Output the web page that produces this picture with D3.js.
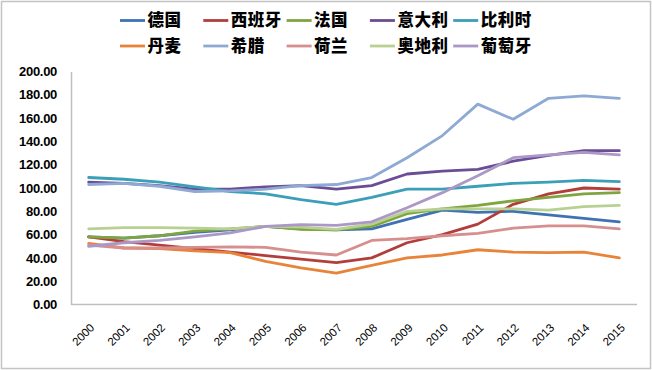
<!DOCTYPE html>
<html>
<head>
<meta charset="utf-8">
<script src="https://cdn.jsdelivr.net/npm/d3@7"></script>
<style>
  body { margin: 0; background: #fff; }
  svg { display: block; }
</style>
</head>
<body>
<div id="chart"></div>
<script>
// years on x, index value on y
const years = ["2000","2001","2002","2003","2004","2005","2006","2007","2008","2009","2010","2011","2012","2013","2014","2015"];
const yTicks = [0, 20, 40, 60, 80, 100, 120, 140, 160, 180, 200];

const names = ["德国","西班牙","法国","意大利","比利时","丹麦","希腊","荷兰","奥地利","葡萄牙"];
const colors = ["#3f72b3","#b23e3b","#7fa540","#6a4d95","#3c9fb8","#e8843a","#8eaad4","#d68f8e","#b8d192","#ab98c6"];

const germany  = [58, 57, 59, 62, 64, 67, 65, 64, 65, 73, 81, 79, 80, 77, 74, 71];
const spain    = [58, 54, 51, 48, 45, 42, 39, 36, 40, 53, 60, 69, 86, 95, 100, 99];
const france   = [58, 57, 59, 63, 65, 67, 64.5, 64, 67, 78, 82, 85, 89, 92, 95, 96];
const italy    = [105, 104, 102, 99, 99, 101, 102, 99, 102, 112, 114.5, 116, 123, 128, 132, 132];
const belgium  = [109, 107.5, 105, 101, 97, 95, 90, 86, 92, 99, 99, 101.5, 104, 105, 106.5, 105.5];
const denmark  = [52.5, 48.5, 48, 46, 44.5, 37, 31.5, 27, 33.5, 40, 42.5, 47, 45, 44.5, 45, 40];
const greece   = [103, 104, 101.5, 97, 97.5, 99, 102, 103, 109, 126, 145, 172, 159, 177, 179, 177];
const holland  = [51, 48.5, 48.5, 49, 49.5, 49, 45, 42.5, 55, 56.5, 59, 61, 65.5, 67.5, 67.5, 65];
const austria  = [65, 66, 66, 65.5, 65, 67, 66.5, 64.5, 69, 80, 82, 82, 82, 81, 84, 85];
const portugal = [50, 53, 55, 58, 61.5, 67, 68.5, 68, 71, 83, 96, 110.5, 126, 128.5, 130.5, 128.5];

const seriesValues = [germany, spain, france, italy, belgium, denmark, greece, holland, austria, portugal];

const width = 652, height = 370;
const plot = { left: 71, right: 637, top: 71.5, bottom: 304.5 };

const svg = d3.select("#chart").append("svg")
  .attr("width", width)
  .attr("height", height);

// outer chart frame
svg.append("rect")
  .attr("x", 1.5).attr("y", 1.5)
  .attr("width", width - 3).attr("height", height - 3)
  .attr("fill", "#fff")
  .attr("stroke", "#c4c4c4")
  .attr("stroke-width", 1.5);

const x = d3.scalePoint()
  .domain(years)
  .range([plot.left, plot.right])
  .padding(0.5);

const y = d3.scaleLinear()
  .domain([0, 200])
  .range([plot.bottom, plot.top]);

const yAxis = svg.append("g")
  .attr("transform", `translate(${plot.left},0)`)
  .call(d3.axisLeft(y).tickValues(yTicks).tickFormat(d3.format(".2f")).tickSize(0).tickPadding(14));
yAxis.select(".domain").attr("stroke", "#bfbfbf").attr("stroke-width", 1.5);
yAxis.selectAll("text")
  .attr("fill", "#000")
  .style("font-family", "'Liberation Sans', Arial, sans-serif")
  .style("font-weight", "bold")
  .style("font-size", "13px")
  .style("letter-spacing", "-0.3px");

const xAxis = svg.append("g")
  .attr("transform", `translate(0,${plot.bottom})`)
  .call(d3.axisBottom(x).tickSize(0).tickSizeOuter(0));
xAxis.select(".domain")
  .attr("d", `M${plot.left},0H${plot.right}`)
  .attr("stroke", "#bfbfbf").attr("stroke-width", 1.5);
xAxis.selectAll("text")
  .attr("fill", "#000")
  .style("font-family", "'Liberation Sans', Arial, sans-serif")
  .style("font-size", "11.5px")
  .attr("text-anchor", "end")
  .attr("dy", "0.35em")
  .attr("transform", "translate(3,21) rotate(-45)")
  .attr("y", 0)
  .attr("x", 0);

const line = d3.line()
  .x((d, i) => x(years[i]))
  .y(d => y(d));

svg.append("g")
  .selectAll("path")
  .data(seriesValues)
  .join("path")
  .attr("d", line)
  .attr("fill", "none")
  .attr("stroke", (d, i) => colors[i])
  .attr("stroke-width", 2.8)
  .attr("stroke-linejoin", "round")
  .attr("stroke-linecap", "round");

// legend, 2 rows x 5 columns
const legend = svg.append("g");
const items = legend.selectAll("g")
  .data(names)
  .join("g")
  .attr("transform", (d, i) => `translate(${120 + (i % 5) * 83.3},${i < 5 ? 20.5 : 46})`);
items.append("line")
  .attr("x1", 0).attr("x2", 25)
  .attr("stroke", (d, i) => colors[i])
  .attr("stroke-width", 2.8);
items.append("text")
  .attr("x", 27.5)
  .attr("dy", "0.36em")
  .text(d => d)
  .style("font-family", "'Noto Sans CJK SC', sans-serif")
  .style("font-weight", "900")
  .style("font-size", "16.5px")
  .style("letter-spacing", "0.5px")
  .attr("fill", "#000");
</script>
</body>
</html>
